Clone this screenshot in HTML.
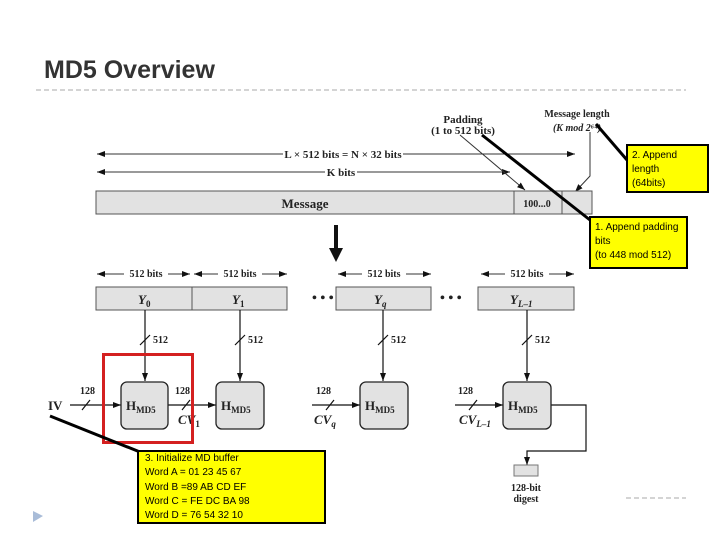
<!DOCTYPE html>
<html><head><meta charset="utf-8"><style>
body{margin:0;background:#fff}
svg{display:block}
.t{font-family:"Liberation Serif",serif;font-weight:bold;fill:#222}
.s{font-family:"Liberation Sans",sans-serif;font-size:10px;fill:#000}
</style></head><body>
<svg width="720" height="540" viewBox="0 0 720 540" xmlns="http://www.w3.org/2000/svg">
<defs>
<marker id="a" markerWidth="8" markerHeight="6" refX="8" refY="3" orient="auto" markerUnits="userSpaceOnUse"><path d="M0,0L8,3L0,6z" fill="#111"/></marker>
<marker id="b" markerWidth="8" markerHeight="6" refX="0" refY="3" orient="auto" markerUnits="userSpaceOnUse"><path d="M8,0L0,3L8,6z" fill="#111"/></marker>
</defs>
<text x="44" y="78" font-family="Liberation Sans,sans-serif" font-size="25" font-weight="bold" fill="#333">MD5 Overview</text>
<line x1="36" y1="90" x2="686" y2="90" stroke="#aaa" stroke-dasharray="5,3"/>
<line x1="626" y1="498" x2="686" y2="498" stroke="#aaa" stroke-dasharray="5,3"/>
<path d="M33,511 L43,516 L33,522z" fill="#a9bcd8"/>

<g stroke="#333" stroke-width="1">
<line x1="97" y1="154" x2="575" y2="154" marker-start="url(#b)" marker-end="url(#a)"/>
<line x1="97" y1="172" x2="510" y2="172" marker-start="url(#b)" marker-end="url(#a)"/>
</g>
<rect x="283" y="148" width="120" height="12" fill="#fff"/>
<text x="343" y="158" text-anchor="middle" class="t" font-size="11" font-weight="normal">L × 512 bits = N × 32 bits</text>
<rect x="325" y="166" width="32" height="12" fill="#fff"/>
<text x="341" y="176" text-anchor="middle" class="t" font-size="11" font-weight="normal">K bits</text>
<text x="463" y="123" text-anchor="middle" class="t" font-size="11">Padding</text>
<text x="463" y="134" text-anchor="middle" class="t" font-size="11" font-weight="normal">(1 to 512 bits)</text>
<text x="577" y="117" text-anchor="middle" class="t" font-size="10" font-weight="normal">Message length</text>
<text x="577" y="131" text-anchor="middle" class="t" font-size="10" font-weight="normal" font-style="italic">(K mod 2⁶⁴)</text>
<line x1="460" y1="135" x2="525" y2="190" stroke="#333" marker-end="url(#a)"/>
<path d="M590,132 L590,176 L575,192" fill="none" stroke="#333" marker-end="url(#a)"/>

<rect x="96" y="191" width="496" height="23" fill="#e2e2e2" stroke="#555"/>
<line x1="514" y1="191" x2="514" y2="214" stroke="#555"/>
<line x1="562" y1="191" x2="562" y2="214" stroke="#555"/>
<text x="305" y="208" text-anchor="middle" class="t" font-size="13">Message</text>
<text x="537" y="207" text-anchor="middle" class="t" font-size="10">100...0</text>

<line x1="336" y1="225" x2="336" y2="250" stroke="#111" stroke-width="4"/>
<path d="M329,248 L343,248 L336,262z" fill="#111"/>

<g stroke="#333">
<line x1="97" y1="274" x2="190" y2="274" marker-start="url(#b)" marker-end="url(#a)"/>
<line x1="194" y1="274" x2="287" y2="274" marker-start="url(#b)" marker-end="url(#a)"/>
<line x1="338" y1="274" x2="431" y2="274" marker-start="url(#b)" marker-end="url(#a)"/>
<line x1="481" y1="274" x2="574" y2="274" marker-start="url(#b)" marker-end="url(#a)"/>
</g>
<g font-size="10">
<rect x="124" y="268" width="44" height="12" fill="#fff"/><text x="146" y="277" text-anchor="middle" class="t" font-weight="normal">512 bits</text>
<rect x="218" y="268" width="44" height="12" fill="#fff"/><text x="240" y="277" text-anchor="middle" class="t" font-weight="normal">512 bits</text>
<rect x="362" y="268" width="44" height="12" fill="#fff"/><text x="384" y="277" text-anchor="middle" class="t" font-weight="normal">512 bits</text>
<rect x="505" y="268" width="44" height="12" fill="#fff"/><text x="527" y="277" text-anchor="middle" class="t" font-weight="normal">512 bits</text>
</g>

<g fill="#e2e2e2" stroke="#555">
<rect x="96" y="287" width="96" height="23"/><rect x="192" y="287" width="95" height="23"/>
<rect x="336" y="287" width="95" height="23"/><rect x="478" y="287" width="96" height="23"/>
</g>
<g class="t" font-size="13" font-style="italic">
<text x="138" y="304">Y<tspan font-size="9" dy="3" font-style="normal">0</tspan></text>
<text x="232" y="304">Y<tspan font-size="9" dy="3" font-style="normal">1</tspan></text>
<text x="374" y="304">Y<tspan font-size="9" dy="3">q</tspan></text>
<text x="510" y="304">Y<tspan font-size="9" dy="3">L–1</tspan></text>
</g>
<text x="312" y="302" class="t" font-size="14">• • •</text>
<text x="440" y="302" class="t" font-size="14">• • •</text>

<g stroke="#111" stroke-width="1.2">
<line x1="145" y1="310" x2="145" y2="381" marker-end="url(#a)"/>
<line x1="240" y1="310" x2="240" y2="381" marker-end="url(#a)"/>
<line x1="383" y1="310" x2="383" y2="381" marker-end="url(#a)"/>
<line x1="527" y1="310" x2="527" y2="381" marker-end="url(#a)"/>
<line x1="140" y1="345" x2="150" y2="335"/><line x1="235" y1="345" x2="245" y2="335"/>
<line x1="378" y1="345" x2="388" y2="335"/><line x1="522" y1="345" x2="532" y2="335"/>
<line x1="70" y1="405" x2="121" y2="405" marker-end="url(#a)"/>
<line x1="168" y1="405" x2="216" y2="405" marker-end="url(#a)"/>
<line x1="312" y1="405" x2="360" y2="405" marker-end="url(#a)"/>
<line x1="455" y1="405" x2="503" y2="405" marker-end="url(#a)"/>
<line x1="82" y1="410" x2="90" y2="400"/><line x1="182" y1="410" x2="190" y2="400"/>
<line x1="326" y1="410" x2="334" y2="400"/><line x1="469" y1="410" x2="477" y2="400"/>
<path d="M551,405 L586,405 L586,451 L527,451 L527,465" fill="none" marker-end="url(#a)"/>
</g>
<g class="t" font-size="10" font-weight="normal">
<text x="153" y="343">512</text><text x="248" y="343">512</text><text x="391" y="343">512</text><text x="535" y="343">512</text>
<text x="80" y="394">128</text><text x="175" y="394">128</text><text x="316" y="394">128</text><text x="458" y="394">128</text>
</g>
<text x="48" y="410" class="t" font-size="13">IV</text>
<g class="t" font-size="13" font-style="italic">
<text x="178" y="424">CV<tspan font-size="9" dy="3" font-style="normal">1</tspan></text>
<text x="314" y="424">CV<tspan font-size="9" dy="3">q</tspan></text>
<text x="459" y="424">CV<tspan font-size="9" dy="3">L–1</tspan></text>
</g>
<g fill="#e2e2e2" stroke="#222" stroke-width="1.3">
<rect x="121" y="382" width="47" height="47" rx="6"/><rect x="216" y="382" width="48" height="47" rx="6"/>
<rect x="360" y="382" width="48" height="47" rx="6"/><rect x="503" y="382" width="48" height="47" rx="6"/>
</g>
<g class="t" font-size="13">
<text x="126" y="410">H<tspan font-size="9" dy="3">MD5</tspan></text>
<text x="221" y="410">H<tspan font-size="9" dy="3">MD5</tspan></text>
<text x="365" y="410">H<tspan font-size="9" dy="3">MD5</tspan></text>
<text x="508" y="410">H<tspan font-size="9" dy="3">MD5</tspan></text>
</g>
<rect x="514" y="465" width="24" height="11" fill="#e2e2e2" stroke="#777"/>
<text x="526" y="491" text-anchor="middle" class="t" font-size="10">128-bit</text>
<text x="526" y="502" text-anchor="middle" class="t" font-size="10">digest</text>

<rect x="103.5" y="354.5" width="89" height="88" fill="none" stroke="#d42020" stroke-width="3"/>

<g stroke="#000" stroke-width="3">
<line x1="627" y1="160" x2="596" y2="124"/>
<line x1="590" y1="220" x2="482" y2="135"/>
<line x1="140" y1="452" x2="50" y2="416"/>
</g>
<g fill="#ffff00" stroke="#000" stroke-width="2">
<rect x="627" y="145" width="81" height="47"/>
<rect x="590" y="217" width="97" height="51"/>
<rect x="138" y="451" width="187" height="72"/>
</g>
<g class="s">
<text x="632" y="158">2. Append</text><text x="632" y="172">length</text><text x="632" y="186">(64bits)</text>
<text x="595" y="230">1. Append padding</text><text x="595" y="244">bits</text><text x="595" y="258">(to 448 mod 512)</text>
<text x="145" y="461">3. Initialize MD buffer</text>
<text x="145" y="475">Word A = 01 23 45 67</text>
<text x="145" y="490">Word B =89 AB CD EF</text>
<text x="145" y="504">Word C = FE DC BA 98</text>
<text x="145" y="518">Word D = 76 54 32 10</text>
</g>
</svg>
</body></html>
